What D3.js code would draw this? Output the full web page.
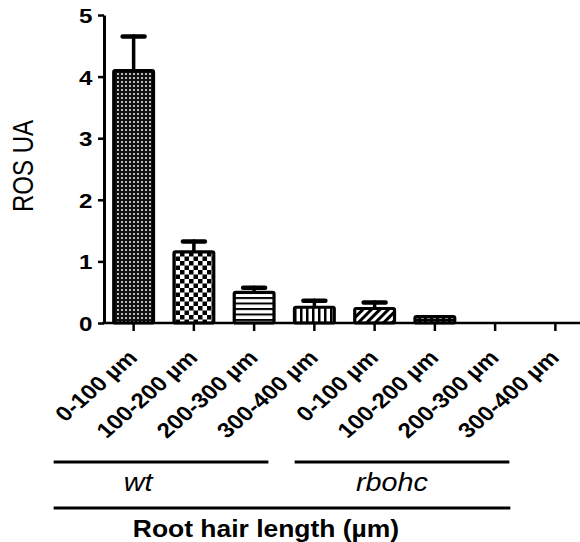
<!DOCTYPE html>
<html lang="en">
<head>
<meta charset="UTF-8">
<title>ROS UA</title>
<style>
  body { margin: 0; background: #fff; }
  text { font-family: "Liberation Sans", Arial, sans-serif; fill: #000; }
</style>
</head>
<body>
<svg id="chart" width="580" height="542"></svg>
<script src="https://d3js.org/d3.v7.min.js"></script>
<script>
// data
var categories = ["0-100 µm", "100-200 µm", "200-300 µm", "300-400 µm",
                  "0-100 µm", "100-200 µm", "200-300 µm", "300-400 µm"];
var values = [4.12, 1.18, 0.52, 0.28, 0.26, 0.13, 0, 0];
var errors = [0.54, 0.15, 0.06, 0.09, 0.08, 0, 0, 0];
var yTicks = [0, 1, 2, 3, 4, 5];
var groups = [
  { label: "wt", from: 0, to: 3, shift: -23 },
  { label: "rbohc", from: 4, to: 7, shift: -10 }
];
var xTitle = "Root hair length (µm)";
var yTitle = "ROS UA";

var svg = d3.select("#chart");
var stretch = "scale(1.15,1)";

var x = d3.scaleBand()
  .domain(d3.range(categories.length))
  .range([103.5, 585.5])
  .paddingInner(0.29)
  .paddingOuter(0.145);
function cx(i) { return x(i) + x.bandwidth() / 2; }

var y = d3.scaleLinear().domain([0, 5]).range([323, 15]);

// fill patterns
var defs = svg.append("defs");

var p = defs.append("pattern").attr("id", "p0").attr("patternUnits", "userSpaceOnUse")
  .attr("width", 4).attr("height", 4);
p.append("rect").attr("width", 4).attr("height", 4).attr("fill", "#111");
p.append("rect").attr("x", 1).attr("y", 1).attr("width", 2).attr("height", 2).attr("fill", "#bbb");

p = defs.append("pattern").attr("id", "p1").attr("patternUnits", "userSpaceOnUse")
  .attr("width", 9).attr("height", 9);
p.append("rect").attr("width", 9).attr("height", 9).attr("fill", "#fff");
p.append("rect").attr("width", 4.5).attr("height", 4.5).attr("fill", "#000");
p.append("rect").attr("x", 4.5).attr("y", 4.5).attr("width", 4.5).attr("height", 4.5).attr("fill", "#000");

p = defs.append("pattern").attr("id", "p2").attr("patternUnits", "userSpaceOnUse")
  .attr("width", 5).attr("height", 5.5);
p.append("rect").attr("width", 5).attr("height", 5.5).attr("fill", "#fff");
p.append("rect").attr("width", 5).attr("height", 2).attr("fill", "#000");

p = defs.append("pattern").attr("id", "p3").attr("patternUnits", "userSpaceOnUse")
  .attr("width", 6).attr("height", 5);
p.append("rect").attr("width", 6).attr("height", 5).attr("fill", "#fff");
p.append("rect").attr("width", 2.5).attr("height", 5).attr("fill", "#000");

p = defs.append("pattern").attr("id", "p4").attr("patternUnits", "userSpaceOnUse")
  .attr("width", 6).attr("height", 6).attr("patternTransform", "rotate(45)");
p.append("rect").attr("width", 6).attr("height", 6).attr("fill", "#fff");
p.append("rect").attr("width", 3).attr("height", 6).attr("fill", "#000");

p = defs.append("pattern").attr("id", "p5").attr("patternUnits", "userSpaceOnUse")
  .attr("width", 6).attr("height", 5);
p.append("rect").attr("width", 6).attr("height", 5).attr("fill", "#000");
p.append("rect").attr("x", 1).attr("y", 1.5).attr("width", 3).attr("height", 2).attr("fill", "#fff");

// bars
svg.append("g").selectAll("rect")
  .data(values.map(function(v, i) { return { v: v, i: i }; }).filter(function(d) { return d.v > 0; }))
  .join("rect")
  .attr("x", function(d) { return x(d.i) + 1.5; })
  .attr("y", function(d) { return y(d.v) + 1.5; })
  .attr("width", x.bandwidth() - 3)
  .attr("height", function(d) { return y(0) - y(d.v) - 1.5; })
  .attr("rx", 1.5)
  .attr("fill", function(d) { return "url(#p" + d.i + ")"; })
  .attr("stroke", "#000")
  .attr("stroke-width", 3.2)
  .attr("stroke-linejoin", "round");

// error bars (upward only)
var err = svg.append("g").attr("stroke", "#000").attr("stroke-linecap", "round");
values.forEach(function(v, i) {
  if (errors[i] <= 0) return;
  err.append("line").attr("x1", cx(i)).attr("x2", cx(i))
    .attr("y1", y(v)).attr("y2", y(v + errors[i]))
    .attr("stroke-width", 3.5);
  err.append("line").attr("x1", cx(i) - 11).attr("x2", cx(i) + 11)
    .attr("y1", y(v + errors[i]) + 0.5).attr("y2", y(v + errors[i]) + 0.5)
    .attr("stroke-width", 4.5);
});

// y axis
var yAxis = svg.append("g")
  .attr("transform", "translate(104,0)")
  .call(d3.axisLeft(y).tickValues(yTicks).tickFormat(d3.format("d")).tickSize(6).tickPadding(4).tickSizeOuter(0));
yAxis.select(".domain").attr("stroke-width", 3);
yAxis.selectAll(".tick line").attr("stroke-width", 2.5);
yAxis.selectAll(".tick text")
  .attr("transform", stretch)
  .style("font-size", "21px").style("font-weight", "bold")
  .attr("dy", "0.36em");

// x axis
var xAxis = svg.append("g").attr("transform", "translate(0,323)");
xAxis.append("line").attr("x1", 102.5).attr("x2", 580).attr("stroke", "#000").attr("stroke-width", 2.5);
xAxis.selectAll(".tk")
  .data(categories)
  .join("line")
  .attr("x1", function(d, i) { return cx(i); })
  .attr("x2", function(d, i) { return cx(i); })
  .attr("y1", 0).attr("y2", 8)
  .attr("stroke", "#000").attr("stroke-width", 2.5);
xAxis.selectAll("text")
  .data(categories)
  .join("text")
  .attr("transform", function(d, i) {
    return "translate(" + (cx(i) + 5) + ",36) " + stretch + " rotate(-45)";
  })
  .attr("text-anchor", "end")
  .style("font-size", "21px").style("font-weight", "bold")
  .text(function(d) { return d; });

// group brackets
var g = svg.append("g");
groups.forEach(function(gr) {
  var x0 = cx(gr.from) - 80, x1 = cx(gr.to) - 46;
  g.append("line").attr("x1", x0).attr("x2", x1).attr("y1", 462).attr("y2", 462)
    .attr("stroke", "#000").attr("stroke-width", 3);
  g.append("text")
    .attr("transform", "translate(" + ((x0 + x1) / 2 + gr.shift) + ",491) " + stretch)
    .attr("text-anchor", "middle")
    .style("font-size", "25px").style("font-style", "italic")
    .text(gr.label);
});

g.append("line").attr("x1", cx(0) - 80).attr("x2", cx(7) - 45).attr("y1", 508).attr("y2", 508)
  .attr("stroke", "#000").attr("stroke-width", 3);
g.append("text")
  .attr("transform", "translate(266,537) " + stretch)
  .attr("text-anchor", "middle")
  .style("font-size", "23px").style("font-weight", "bold")
  .text(xTitle);

// y title
svg.append("text")
  .attr("transform", "translate(33,166) rotate(-90) scale(1,1.2)")
  .attr("text-anchor", "middle")
  .style("font-size", "24px")
  .text(yTitle);
</script>
</body>
</html>
